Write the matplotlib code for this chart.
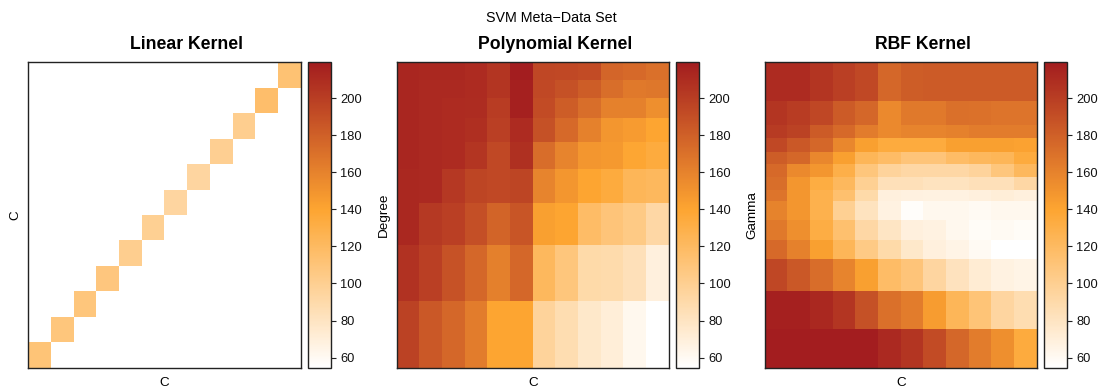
import numpy as np
import matplotlib
matplotlib.use("Agg")
import matplotlib.pyplot as plt
from matplotlib.colors import LinearSegmentedColormap, Normalize

plt.rcParams["font.family"] = ["Liberation Sans", "DejaVu Sans"]

# ---- data -----------------------------------------------------------------
# Linear kernel: one value per C on the diagonal (C x C grid), bottom-left to top-right
linear_diag = [111, 109, 109, 108, 101, 99, 94, 94, 100, 101, 116, 113]

# Polynomial kernel: rows are degree levels from top to bottom, columns are C levels
poly_values = [
    [214, 213, 213, 211, 205, 220, 195, 194, 192, 177, 175, 171],
    [214, 212, 212, 211, 205, 217, 194, 189, 182, 172, 166, 167],
    [214, 212, 211, 210, 201, 217, 192, 182, 172, 161, 161, 153],
    [214, 212, 211, 209, 199, 211, 189, 175, 161, 149, 146, 140],
    [214, 212, 211, 205, 194, 208, 173, 159, 149, 147, 139, 135],
    [213, 212, 204, 196, 194, 196, 159, 149, 140, 135, 124, 122],
    [213, 203, 199, 190, 178, 186, 143, 140, 118, 110, 105, 92],
    [207, 199, 188, 176, 162, 176, 122, 109, 90, 89, 84, 69],
    [198, 185, 176, 164, 140, 140, 96, 87, 77, 71, 62, 55],
]
# degree grid boundaries (bottom to top, unit range)
degree_edges = [0.0, 0.219, 0.402, 0.540, 0.651, 0.740, 0.819, 0.884, 0.942, 1.0]

# RBF kernel: rows are gamma levels from top to bottom, columns are C levels
rbf_values = [
    [211, 211, 205, 199, 194, 176, 182, 183, 183, 183, 183, 183],
    [205, 201, 195, 183, 176, 156, 166, 166, 171, 170, 168, 168],
    [202, 198, 183, 175, 164, 156, 159, 159, 161, 164, 164, 164],
    [194, 185, 176, 157, 143, 135, 135, 135, 143, 143, 143, 142],
    [182, 176, 157, 143, 124, 118, 110, 110, 118, 122, 124, 135],
    [175, 156, 149, 130, 109, 96, 92, 92, 92, 96, 109, 122],
    [172, 149, 133, 122, 99, 84, 84, 81, 81, 84, 84, 92],
    [168, 149, 128, 115, 90, 69, 68, 67, 67, 69, 71, 69],
    [160, 149, 128, 99, 81, 67, 57, 62, 62, 60, 62, 62],
    [166, 153, 132, 115, 92, 79, 69, 67, 62, 58, 60, 58],
    [175, 161, 143, 124, 105, 90, 77, 69, 65, 60, 55, 55],
    [195, 185, 173, 159, 143, 118, 110, 94, 82, 73, 67, 65],
    [217, 217, 213, 205, 189, 171, 164, 145, 124, 111, 94, 87],
    [220, 220, 220, 220, 219, 212, 205, 192, 176, 164, 153, 135],
]
# gamma grid boundaries (bottom to top, unit range)
gamma_edges = [0.0, 0.127, 0.251, 0.356, 0.418, 0.484, 0.547, 0.582,
               0.623, 0.667, 0.707, 0.751, 0.795, 0.873, 1.0]

cbar_ticks = [60, 80, 100, 120, 140, 160, 180, 200]
value_range = (54.5, 219.5)

# ---- styling --------------------------------------------------------------
lo, hi = value_range
mid = (140 - lo) / (hi - lo)
cmap = LinearSegmentedColormap.from_list(
    "heat", [(0.0, "#FFFFFF"), (mid, "#FDA531"), (1.0, "#A31D1F")])
norm = Normalize(vmin=lo, vmax=hi)

W, H = 1102, 390
fig = plt.figure(figsize=(W / 100, H / 100), dpi=100)


def fx(px):
    return px / W


def fy(px):
    return 1 - px / H


bottom = fy(367.7)
height = 305.4 / H
panels = [
    # (axes left, axes right, colorbar left)
    (28.3, 300.7, 308.0),
    (396.7, 668.7, 676.3),
    (764.7, 1036.7, 1044.0),
]
cbar_w = 22.7
title_shift = 22.0  # titles are centred over panel + legend area

n_c = len(linear_diag)
c_edges = np.arange(n_c + 1)

lin = np.full((n_c, n_c), np.nan)
for i, v in enumerate(linear_diag):
    lin[i, i] = v

grids = [
    (c_edges, c_edges, lin),
    (c_edges, np.array(degree_edges), np.array(poly_values)[::-1]),
    (c_edges, np.array(gamma_edges), np.array(rbf_values)[::-1]),
]
titles = ["Linear Kernel", "Polynomial Kernel", "RBF Kernel"]
ylabels = ["C", "Degree", "Gamma"]
ylabel_x = [15.0, 384.0, 752.5]

for (l, r, cl), (xe, ye, z), title, yl, ylx in zip(panels, grids, titles, ylabels, ylabel_x):
    ax = fig.add_axes([fx(l), bottom, fx(r - l), height])
    mesh = ax.pcolormesh(xe, ye, z, cmap=cmap, norm=norm, shading="flat",
                         edgecolors="none", antialiased=False)
    ax.set_xlim(xe[0], xe[-1])
    ax.set_ylim(ye[0], ye[-1])
    ax.set_xticks([])
    ax.set_yticks([])
    for s in ax.spines.values():
        s.set_linewidth(1.0)
        s.set_color("#222222")
    fig.text(fx((l + r) / 2 + title_shift), fy(49), title, ha="center",
             va="baseline", fontsize=12.7, fontweight="bold")
    fig.text(fx((l + r) / 2), fy(386), "C", ha="center", va="baseline",
             fontsize=9.7)
    fig.text(fx(ylx), (bottom + height / 2), yl, ha="center", va="center",
             rotation=90, fontsize=9.7)

    cax = fig.add_axes([fx(cl), bottom, fx(cbar_w), height])
    cb = fig.colorbar(mesh, cax=cax, ticks=cbar_ticks)
    cb.outline.set_linewidth(1.0)
    cb.outline.set_edgecolor("#222222")
    cax.tick_params(axis="y", length=3.4, width=0.8, pad=3.5, labelsize=9.3,
                    colors="#222222", labelcolor="#111111")

fig.text(0.5, fy(22), "SVM Meta\u2212Data Set", ha="center", va="baseline",
         fontsize=10.3)

fig.savefig("out.png", dpi=100)
